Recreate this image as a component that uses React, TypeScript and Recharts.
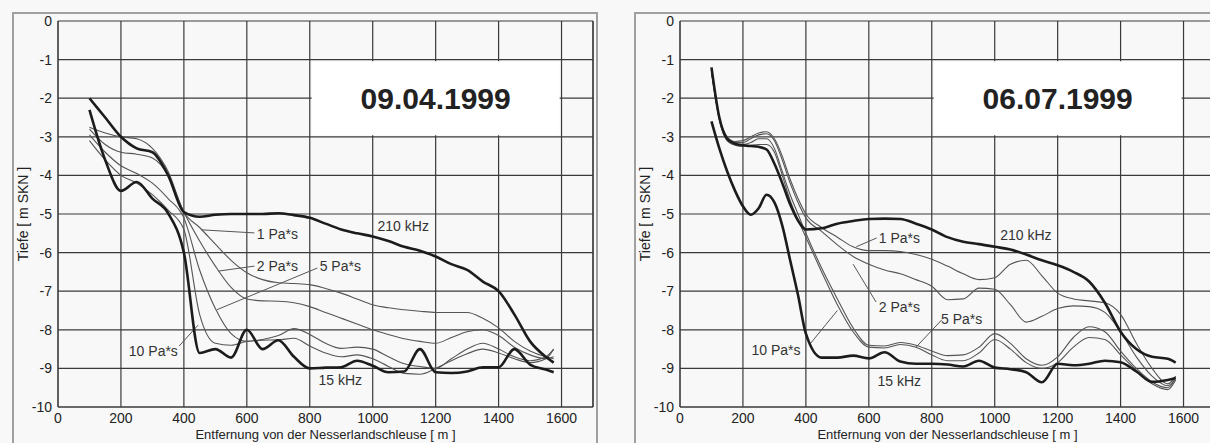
import { LineChart, Line, XAxis, YAxis, CartesianGrid, ReferenceArea, ReferenceLine, ReferenceDot } from "recharts";

// Entfernung [m], Tiefe [m SKN]
const leftDist = [100, 150, 200, 250, 300, 350, 400, 450, 500, 550, 600, 650, 700, 750, 800, 850, 900, 950, 1000, 1050, 1100, 1150, 1200, 1250, 1300, 1350, 1400, 1450, 1500, 1550, 1575];
const left210 = [-2.0, -2.5, -3.0, -3.3, -3.4, -4.0, -4.95, -5.07, -5.02, -5.0, -5.0, -5.0, -4.98, -5.03, -5.1, -5.25, -5.4, -5.5, -5.58, -5.7, -5.85, -5.95, -6.1, -6.3, -6.45, -6.75, -7.0, -7.6, -8.3, -8.7, -8.85];
const left15 = [-2.3, -3.6, -4.4, -4.17, -4.6, -4.98, -6.0, -8.6, -8.5, -8.72, -8.0, -8.5, -8.27, -8.7, -9.0, -8.98, -8.97, -8.8, -8.93, -9.1, -9.08, -8.5, -9.1, -9.12, -9.08, -8.97, -8.97, -8.5, -8.9, -9.03, -9.1];
const leftPa1 = [-2.75, -2.9, -3.0, -3.05, -3.3, -3.9, -4.95, -5.35, -5.78, -6.2, -6.52, -6.7, -6.78, -6.8, -6.83, -6.93, -7.05, -7.2, -7.35, -7.43, -7.48, -7.52, -7.55, -7.55, -7.55, -7.7, -7.95, -8.3, -8.55, -8.7, -8.75];
const leftPa2 = [-2.8, -3.2, -3.4, -3.45, -3.55, -4.0, -4.95, -5.7, -6.35, -6.9, -7.2, -7.25, -7.26, -7.3, -7.4, -7.55, -7.7, -7.85, -8.0, -8.12, -8.23, -8.3, -8.35, -8.2, -8.05, -8.0, -8.15, -8.45, -8.65, -8.75, -8.7];
const leftPa5 = [-2.95, -3.4, -3.75, -3.95, -4.2, -4.6, -5.1, -6.45, -7.45, -8.1, -8.3, -8.25, -8.15, -7.97, -8.12, -8.35, -8.48, -8.45, -8.5, -8.7, -8.88, -8.95, -9.0, -8.75, -8.5, -8.35, -8.5, -8.7, -8.8, -8.7, -8.5];
const leftPa10 = [-3.1, -3.6, -4.0, -4.2, -4.5, -4.9, -5.4, -7.6, -8.35, -8.4, -8.3, -8.27, -8.26, -8.22, -8.42, -8.6, -8.7, -8.65, -8.75, -8.95, -9.13, -9.15, -9.0, -8.8, -8.62, -8.5, -8.6, -8.75, -8.85, -8.75, -8.5];

const rightDist = [100, 125, 150, 175, 200, 225, 250, 275, 300, 325, 350, 375, 400, 450, 500, 550, 600, 650, 700, 750, 800, 850, 900, 950, 1000, 1050, 1100, 1150, 1200, 1250, 1300, 1350, 1400, 1450, 1500, 1550, 1575];
const right210 = [-1.2, -2.5, -3.05, -3.18, -3.22, -3.24, -3.26, -3.33, -3.7, -4.2, -4.75, -5.17, -5.4, -5.37, -5.25, -5.18, -5.13, -5.12, -5.13, -5.25, -5.4, -5.6, -5.72, -5.78, -5.85, -5.92, -6.05, -6.2, -6.33, -6.5, -6.75, -7.3, -8.05, -8.5, -8.7, -8.75, -8.85];
const right15 = [-2.6, -3.3, -3.9, -4.4, -4.8, -5.02, -4.85, -4.5, -4.7, -5.3, -6.2, -7.1, -8.1, -8.72, -8.72, -8.67, -8.74, -8.58, -8.82, -8.88, -8.88, -8.9, -8.95, -8.8, -8.98, -9.02, -9.1, -9.36, -8.88, -8.92, -8.88, -8.8, -8.84, -9.08, -9.35, -9.3, -9.25];
const rightPa1 = [-1.3, -2.5, -3.0, -3.12, -3.1, -3.0, -2.9, -2.87, -3.05, -3.5, -4.1, -4.6, -5.0, -5.35, -5.6, -5.85, -5.95, -5.95, -5.97, -6.05, -6.17, -6.35, -6.55, -6.7, -6.65, -6.3, -6.2, -6.6, -7.05, -7.2, -7.25, -7.3, -7.6, -8.35, -9.0, -9.4, -9.2];
const rightPa2 = [-1.3, -2.5, -3.05, -3.15, -3.15, -3.05, -2.95, -2.92, -3.1, -3.6, -4.2, -4.7, -5.1, -5.45, -5.8, -6.1, -6.3, -6.45, -6.55, -6.7, -6.87, -7.22, -7.2, -6.92, -6.95, -7.35, -7.8, -7.65, -7.45, -7.38, -7.4, -7.55, -8.05, -8.7, -9.2, -9.45, -9.25];
const rightPa5 = [-1.3, -2.55, -3.1, -3.2, -3.2, -3.15, -3.05, -3.05, -3.3, -3.9, -4.5, -5.0, -5.5, -6.4, -7.2, -7.95, -8.4, -8.42, -8.33, -8.4, -8.55, -8.67, -8.65, -8.45, -8.1, -8.35, -8.75, -8.92, -8.7, -8.2, -7.92, -8.05, -8.55, -9.0, -9.35, -9.5, -9.25];
const rightPa10 = [-1.3, -2.55, -3.1, -3.22, -3.25, -3.22, -3.2, -3.2, -3.4, -4.0, -4.65, -5.15, -5.6, -6.5, -7.35, -8.05, -8.45, -8.47, -8.38, -8.45, -8.65, -8.8, -8.8, -8.6, -8.25, -8.5, -8.85, -9.0, -8.85, -8.45, -8.2, -8.25, -8.65, -9.05, -9.4, -9.55, -9.3];

const xTicks = [0, 200, 400, 600, 800, 1000, 1200, 1400, 1600];
const yTicks = [0, -1, -2, -3, -4, -5, -6, -7, -8, -9, -10];

// annotations (data coordinates)
const leftLabels = [
  { text: "210 kHz", x: 1097, y: -5.32 },
  { text: "1 Pa*s", x: 697, y: -5.52 },
  { text: "2 Pa*s", x: 697, y: -6.35 },
  { text: "5 Pa*s", x: 897, y: -6.35 },
  { text: "10 Pa*s", x: 303, y: -8.54 },
  { text: "15 kHz", x: 897, y: -9.31 },
];
const leftLeaders = [
  [455, -5.41, 624, -5.49],
  [509, -6.48, 624, -6.35],
  [505, -7.48, 824, -6.4],
  [385, -8.42, 445, -7.88],
];
const rightLabels = [
  { text: "210 kHz", x: 1099, y: -5.54 },
  { text: "1 Pa*s", x: 697, y: -5.63 },
  { text: "2 Pa*s", x: 697, y: -7.42 },
  { text: "5 Pa*s", x: 895, y: -7.73 },
  { text: "10 Pa*s", x: 305, y: -8.53 },
  { text: "15 kHz", x: 697, y: -9.33 },
];
const rightLeaders = [
  [560, -5.85, 625, -5.62],
  [550, -6.3, 623, -7.28],
  [750, -8.45, 832, -7.74],
  [412, -8.38, 500, -7.5],
];

function rows(dist: number[], k210: number[], k15: number[], p1: number[], p2: number[], p5: number[], p10: number[]) {
  return dist.map((d, i) => ({ d, k210: k210[i], k15: k15[i], p1: p1[i], p2: p2[i], p5: p5[i], p10: p10[i] }));
}

const leftData = rows(leftDist, left210, left15, leftPa1, leftPa2, leftPa5, leftPa10);
const rightData = rows(rightDist, right210, right15, rightPa1, rightPa2, rightPa5, rightPa10);

const GRID = "#3a3a3a";
const THIN = "#555";
const THICK = "#1c1c1c";

function Panel({ left, data, date, labels, leaders }: any) {
  return (
    <>
      <div
        style={{
          position: "absolute",
          left: left,
          top: 12,
          width: 586,
          height: 460,
          border: "2px solid #a0a0a0",
          boxSizing: "border-box",
        }}
      />
      <div style={{ position: "absolute", left: left, top: 12 }}>
        <LineChart width={586} height={436} data={data} margin={{ top: 9, right: 5, left: 6, bottom: 0 }}>
          <CartesianGrid stroke={GRID} strokeWidth={1.2} />
          <ReferenceArea x1={806} x2={1594} y1={-1.04} y2={-2.96} fill="#ffffff" fillOpacity={1} stroke="none"
            label={{ value: date, position: "center", fontSize: 30, fontWeight: 700, fill: "#222" }} />
          <XAxis
            dataKey="d"
            type="number"
            domain={[0, 1700]}
            ticks={xTicks}
            allowDataOverflow
            height={41}
            stroke={GRID}
            tickSize={0}
            tickMargin={6}
            tick={{ fontSize: 14, fill: "#222" }}
            label={{ value: "Entfernung von der Nesserlandschleuse [ m ]", position: "insideBottom", offset: 9, fontSize: 13, fill: "#222" }}
          />
          <YAxis
            type="number"
            domain={[-10, 0]}
            ticks={yTicks}
            width={40}
            stroke={GRID}
            tickSize={0}
            tickMargin={6}
            tick={{ fontSize: 14, fill: "#222" }}
            label={{ value: "Tiefe [ m SKN ]", angle: -90, position: "insideLeft", offset: 5, fontSize: 14, fill: "#222", style: { textAnchor: "middle" } }}
          />
          <ReferenceLine x={1700} stroke={GRID} strokeWidth={1.2} />
          {leaders.map((s: number[], i: number) => (
            <ReferenceLine key={i} segment={[{ x: s[0], y: s[1] }, { x: s[2], y: s[3] }]} stroke={THIN} strokeWidth={1} />
          ))}
          <Line type="monotone" dataKey="p1" stroke={THIN} strokeWidth={1.1} dot={false} isAnimationActive={false} />
          <Line type="monotone" dataKey="p2" stroke={THIN} strokeWidth={1.1} dot={false} isAnimationActive={false} />
          <Line type="monotone" dataKey="p5" stroke={THIN} strokeWidth={1.1} dot={false} isAnimationActive={false} />
          <Line type="monotone" dataKey="p10" stroke={THIN} strokeWidth={1.1} dot={false} isAnimationActive={false} />
          <Line type="monotone" dataKey="k210" stroke={THICK} strokeWidth={2.6} dot={false} isAnimationActive={false} />
          <Line type="monotone" dataKey="k15" stroke={THICK} strokeWidth={2.6} dot={false} isAnimationActive={false} />
          {labels.map((l: any) => (
            <ReferenceDot key={l.text} x={l.x} y={l.y} r={0} stroke="none" fill="none"
              label={{ value: l.text, position: "center", fontSize: 14, fill: "#333" }} />
          ))}
        </LineChart>
      </div>
    </>
  );
}

export default function App() {
  return (
    <div
      style={{
        position: "absolute",
        left: 0,
        top: 0,
        width: 1210,
        height: 443,
        overflow: "hidden",
        background: "#f8f8f8",
        fontFamily: '"Liberation Sans", Arial, sans-serif',
      }}
    >
      <Panel left={12} data={leftData} date="09.04.1999" labels={leftLabels} leaders={leftLeaders} />
      <Panel left={634} data={rightData} date="06.07.1999" labels={rightLabels} leaders={rightLeaders} />
    </div>
  );
}
